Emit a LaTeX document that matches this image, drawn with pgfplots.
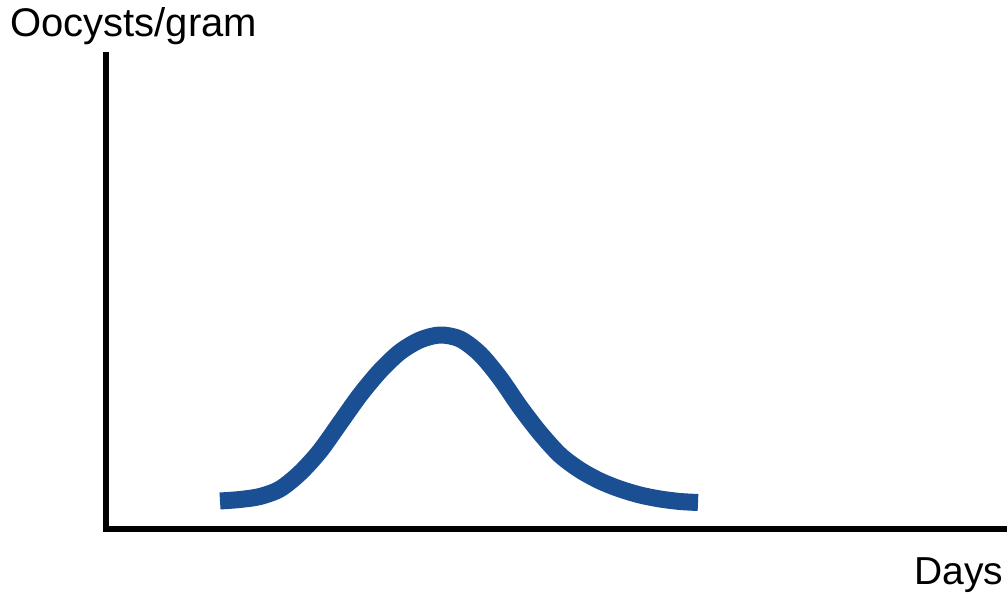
\documentclass[border=0pt]{standalone}
\usepackage{pgfplots}
\pgfplotsset{compat=1.18}
\usepackage{fontspec}
\setmainfont{Liberation Sans}
\definecolor{curveblue}{RGB}{27,79,148}
\begin{document}
\begin{tikzpicture}
\begin{axis}[
  scale only axis,
  width=901pt, height=474pt,
  xmin=0, xmax=901, ymin=0, ymax=474,
  axis lines=left,
  axis line style={-, line width=6pt, black, line cap=rect},
  xtick=\empty, ytick=\empty,
  clip=false,
  xlabel={Days},
  ylabel={Oocysts/gram},
  xlabel style={at={(axis description cs:0.897,-0.118)}, anchor=base west, font=\fontsize{39}{45}\selectfont, inner sep=0pt},
  ylabel style={at={(axis description cs:-0.1065,1.040)}, anchor=base west, rotate=-90, font=\fontsize{40}{46}\selectfont, inner sep=0pt},
]
\addplot[curveblue, line width=17pt, line cap=butt, line join=round, smooth, tension=0.5] coordinates {
(114,28) (134,29.5) (154,32.5) (174,40) (194,56) (214,78) (234,106) (254,134)
(274,158) (294,177) (314,189) (334,194) (354,190) (374,175) (394,151) (414,122)
(434,96) (454,74) (474,59) (494,48) (514,40) (534,34) (554,30) (574,27.5) (592,26.5)
};
\end{axis}
\pgfresetboundingbox
\useasboundingbox (-106pt,-65pt) rectangle (901pt,529pt);
\end{tikzpicture}
\end{document}
